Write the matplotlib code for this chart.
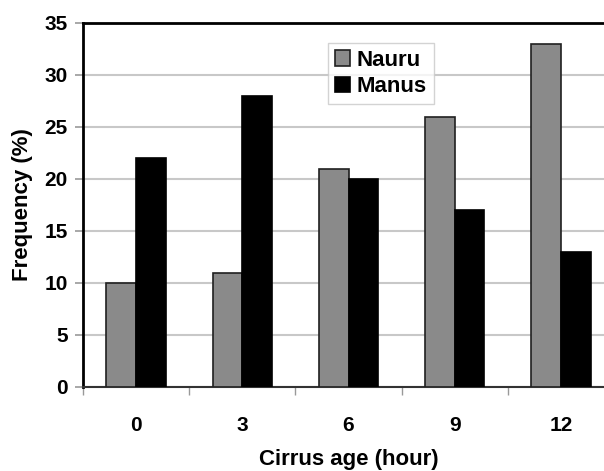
import numpy as np
import matplotlib
matplotlib.use('Agg')
from matplotlib import pyplot as plt

plt.rcParams['font.family'] = ['Liberation Sans', 'DejaVu Sans']
plt.rcParams['font.weight'] = 'bold'

# data
ages = ['0', '3', '6', '9', '12']
nauru = [10, 11, 21, 26, 33]
manus = [22, 28, 20, 17, 13]

fig = plt.figure(figsize=(6.04, 4.71), dpi=100)
ax = fig.add_axes([83/604, 1-387/471, (614-83)/604, (387-23)/471])

x = np.arange(len(ages))
w = 0.28
ax.bar(x - w/2, nauru, w, color='#8a8a8a', edgecolor='#202020', linewidth=1.2, label='Nauru', zorder=3)
ax.bar(x + w/2, manus, w, color='black', edgecolor='black', linewidth=1.2, label='Manus', zorder=3)

ax.set_xlim(-0.5, len(ages) - 0.5)
ax.set_ylim(0, 35)
ax.set_yticks(np.arange(0, 36, 5))
ax.yaxis.grid(True, color='#c8c8c8', linewidth=1.5, zorder=0)
ax.set_axisbelow(True)

ax.set_xticks(x)
ax.set_xticklabels(ages, fontsize=15, fontweight='bold')
ax.set_xticks(np.arange(-0.5, len(ages), 1), minor=True)
ax.tick_params(axis='x', which='major', length=0, pad=21)
ax.tick_params(axis='x', which='minor', length=6, width=1, color='#999999')
ax.tick_params(axis='y', length=6, width=1.2, color='#999999', labelsize=15, pad=5)
for lbl in ax.get_yticklabels():
    lbl.set_fontweight('bold')

for side in ['top', 'left', 'bottom']:
    ax.spines[side].set_linewidth(2)
    ax.spines[side].set_color('black')
ax.spines['bottom'].set_linewidth(1.5)
ax.spines['bottom'].set_color('#333333')
ax.spines['right'].set_visible(False)

ax.set_xlabel('Cirrus age (hour)', fontsize=16, fontweight='bold', labelpad=10)
ax.set_ylabel('Frequency (%)', fontsize=16, fontweight='bold', labelpad=8)

leg = ax.legend(loc='upper left', bbox_to_anchor=((328-83)/531, (387-43)/364),
                fontsize=16, frameon=True, fancybox=False, edgecolor='#c8c8c8',
                handlelength=0.7, handleheight=0.7, handletextpad=0.3,
                borderpad=0.3, labelspacing=0.25, borderaxespad=0)
leg.get_frame().set_linewidth(1.0)
for t in leg.get_texts():
    t.set_fontweight('bold')

plt.savefig('out.png', dpi=100)
